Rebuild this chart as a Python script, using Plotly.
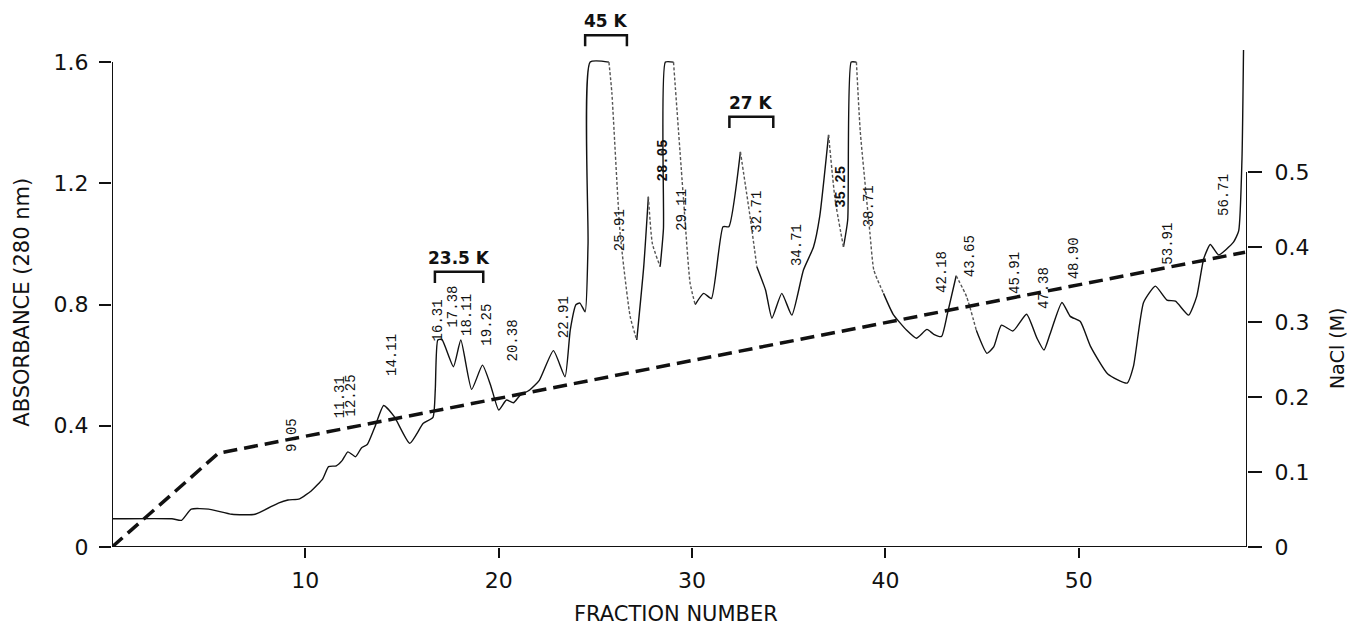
import plotly.graph_objects as go

# ---------------- data ----------------
fraction = [0.0, 3.1, 3.6, 4.1, 5.0, 6.2, 7.4, 8.6, 9.1, 9.7, 10.3, 10.9, 11.2, 11.6, 11.9,
            12.2, 12.6, 12.9, 13.2, 13.6, 14.05, 14.6, 15.4, 16.1, 16.6, 16.72, 16.85, 17.06,
            17.66, 18.04, 18.6, 19.16, 19.6, 20.0, 20.4, 20.76, 21.1, 21.6, 22.1, 22.83,
            23.43, 23.7, 24.0, 24.2, 24.47, 24.62, 24.73, 25.7, 25.85, 26.28, 26.8, 27.14,
            27.5, 27.74, 27.95, 28.35, 28.52, 28.62, 29.04, 29.56, 29.9, 30.16, 30.6, 31.0,
            31.6, 31.9, 32.5, 33.0, 33.35, 33.8, 34.13, 34.64, 35.16, 35.76, 36.28, 36.6,
            37.06, 37.4, 37.83, 38.05, 38.23, 38.5, 38.7, 39.2, 39.4, 39.9, 40.4, 41.1,
            41.6, 42.15, 42.5, 42.9, 43.2, 43.66, 44.2, 44.7, 45.25, 45.6, 46.0, 46.6,
            47.3, 47.83, 48.2, 48.5, 49.13, 49.56, 50.08, 50.6, 51.5, 52.5, 52.83, 53.35,
            53.96, 54.56, 55.0, 55.68, 56.1, 56.46, 56.8, 57.23, 58.0, 58.27, 58.44, 58.52]
absorbance = [0.093, 0.093, 0.088, 0.125, 0.125, 0.108, 0.108, 0.145, 0.155, 0.159, 0.185, 0.225,
              0.265, 0.268, 0.285, 0.314, 0.298, 0.327, 0.338, 0.397, 0.467, 0.43, 0.342, 0.408,
              0.428, 0.52, 0.683, 0.685, 0.595, 0.683, 0.52, 0.60, 0.53, 0.452, 0.485, 0.476,
              0.50, 0.518, 0.55, 0.648, 0.562, 0.716, 0.80, 0.805, 0.776, 1.0, 1.60, 1.60, 1.50,
              1.035, 0.76, 0.683, 0.925, 1.156, 1.0, 0.925, 1.05, 1.60, 1.60, 1.145, 0.87, 0.80,
              0.837, 0.82, 1.057, 1.057, 1.304, 1.09, 0.925, 0.848, 0.755, 0.837, 0.765, 0.914,
              0.99, 1.09, 1.36, 1.145, 0.99, 1.08, 1.60, 1.60, 1.37, 1.035, 0.914, 0.837, 0.768,
              0.715, 0.689, 0.718, 0.702, 0.695, 0.768, 0.895, 0.826, 0.715, 0.639, 0.66, 0.732,
              0.713, 0.768, 0.69, 0.65, 0.70, 0.807, 0.761, 0.744, 0.663, 0.571, 0.541, 0.597,
              0.807, 0.861, 0.815, 0.811, 0.765, 0.827, 0.951, 0.998, 0.964, 1.006, 1.043, 1.28, 1.64]

# fraction ranges where the recorder pen trace is faint / dotted
faint_ranges = [(18.1, 18.5), (25.8, 26.9), (27.8, 28.3), (29.1, 30.0), (32.6, 33.3),
                (37.1, 37.8), (38.6, 39.5), (43.8, 44.6)]

nacl_fraction = [0.0, 5.5, 58.6]
nacl_molar = [0.0, 0.125, 0.393]

peak_labels = ["9.05", "11.31", "12.25", "14.11", "16.31", "17.38", "18.11", "19.25", "20.38",
               "22.91", "25.91", "28.05", "29.11", "32.71", "34.71", "35.25", "38.71", "42.18",
               "43.65", "45.91", "47.38", "48.90", "53.91", "56.71"]
label_fraction = [9.31, 11.8, 12.36, 14.47, 16.88, 17.63, 18.35, 19.42, 20.76, 23.35, 26.28,
                  28.52, 29.47, 33.35, 35.42, 37.66, 39.13, 42.92, 44.35, 46.71, 48.18, 49.73,
                  54.6, 57.5]
label_abs = [0.37, 0.495, 0.50, 0.633, 0.749, 0.793, 0.765, 0.732, 0.683, 0.76, 1.046, 1.277,
             1.112, 1.106, 0.996, 1.189, 1.123, 0.907, 0.958, 0.905, 0.853, 0.951, 1.0, 1.161]
bold_labels = ["28.05", "35.25"]

bracket_names = ["23.5 K", "45 K", "27 K"]
bracket_start = [16.7, 24.47, 31.93]
bracket_end = [19.2, 26.63, 34.2]
bracket_level = [0.908, 1.689, 1.42]

x_ticks = [10, 20, 30, 40, 50]
abs_ticks = [0, 0.4, 0.8, 1.2, 1.6]
abs_ticktext = ["0", "0.4", "0.8", "1.2", "1.6"]
nacl_ticks = [0, 0.1, 0.2, 0.3, 0.4, 0.5]
nacl_ticktext = ["0", "0.1", "0.2", "0.3", "0.4", "0.5"]

X_MAX = 58.7
ABS_MAX = 1.805
NACL_MAX = 0.7293

# ---------------- figure ----------------
def is_faint(f):
    return any(lo <= f <= hi for lo, hi in faint_ranges)

mask = [is_faint(f) for f in fraction]
n = len(fraction)
solid_y = [absorbance[i] if not mask[i] else None for i in range(n)]
faint_y = [absorbance[i] if (mask[i] or (i > 0 and mask[i - 1]) or (i < n - 1 and mask[i + 1])) else None
           for i in range(n)]

fig = go.Figure()
fig.add_trace(go.Scatter(x=fraction, y=solid_y, mode="lines", connectgaps=False,
                         line=dict(color="#111111", width=1.4, shape="spline", smoothing=0.5),
                         hoverinfo="skip", showlegend=False))
fig.add_trace(go.Scatter(x=fraction, y=faint_y, mode="lines", connectgaps=False,
                         line=dict(color="#555555", width=1.4, shape="spline", smoothing=0.5,
                                   dash="3px,2px"),
                         hoverinfo="skip", showlegend=False))
fig.add_trace(go.Scatter(x=nacl_fraction, y=nacl_molar, mode="lines", yaxis="y2",
                         line=dict(color="#111111", width=3.5, dash="14px,7px"),
                         hoverinfo="skip", showlegend=False))

tickfont = dict(family="DejaVu Sans", size=22, color="#111111")
fig.update_layout(
    width=1352, height=630,
    margin=dict(l=112, r=105, t=0, b=83),
    paper_bgcolor="white", plot_bgcolor="white",
    xaxis=dict(range=[0, X_MAX], tickvals=x_ticks, ticks="outside", ticklen=10, tickwidth=2,
               tickcolor="#111111", showline=False, showgrid=False, zeroline=False,
               tickfont=tickfont, ticklabelstandoff=4),
    yaxis=dict(range=[0, ABS_MAX], tickvals=abs_ticks, ticktext=abs_ticktext, ticks="outside",
               ticklen=12, tickwidth=2, tickcolor="#111111", showline=False, showgrid=False,
               zeroline=False, tickfont=tickfont, ticklabelstandoff=6),
    yaxis2=dict(range=[0, NACL_MAX], overlaying="y", side="right", anchor="x",
                tickvals=nacl_ticks, ticktext=nacl_ticktext, ticks="outside", ticklen=14,
                tickwidth=2, tickcolor="#111111", showline=False, showgrid=False,
                zeroline=False, tickfont=tickfont, ticklabelstandoff=8),
)

# axis lines
fig.add_shape(type="line", xref="x", yref="y", x0=0, x1=X_MAX, y0=0, y1=0,
              line=dict(color="#111111", width=2))
fig.add_shape(type="line", xref="x", yref="y", x0=0, x1=0, y0=0, y1=abs_ticks[-1],
              line=dict(color="#111111", width=2))
fig.add_shape(type="line", xref="x", yref="y2", x0=X_MAX, x1=X_MAX, y0=0, y1=nacl_ticks[-1],
              line=dict(color="#111111", width=2))

# brackets
for name, s, e, lv in zip(bracket_names, bracket_start, bracket_end, bracket_level):
    leg = 0.037
    fig.add_shape(type="path", xref="x", yref="y",
                  path=f"M {s},{lv - leg} L {s},{lv} L {e},{lv} L {e},{lv - leg}",
                  line=dict(color="#111111", width=2.5))
    fig.add_annotation(x=(s + e) / 2, y=lv, xref="x", yref="y", text=f"<b>{name}</b>",
                       showarrow=False, yanchor="bottom", yshift=2,
                       font=dict(family="DejaVu Sans", size=17, color="#111111"))

# peak labels
for t, f, a in zip(peak_labels, label_fraction, label_abs):
    txt = f"<b>{t}</b>" if t in bold_labels else t
    fig.add_annotation(x=f, y=a, xref="x", yref="y", text=txt, textangle=-90, showarrow=False,
                       font=dict(family="Liberation Mono", size=14, color="#111111"))

# axis titles
fig.add_annotation(x=-0.0795, y=0.448, xref="paper", yref="paper", text="ABSORBANCE (280 nm)",
                   textangle=-90, showarrow=False, xanchor="center", yanchor="middle",
                   font=dict(family="DejaVu Sans", size=21, color="#111111"))
fig.add_annotation(x=1.0795, y=0.364, xref="paper", yref="paper", text="NaCl (M)",
                   textangle=-90, showarrow=False, xanchor="center", yanchor="middle",
                   font=dict(family="DejaVu Sans", size=19, color="#111111"))
fig.add_annotation(x=0.497, y=-0.1225, xref="paper", yref="paper", text="FRACTION NUMBER",
                   showarrow=False, xanchor="center", yanchor="middle",
                   font=dict(family="DejaVu Sans", size=21, color="#111111"))

fig.write_html("out.html")
